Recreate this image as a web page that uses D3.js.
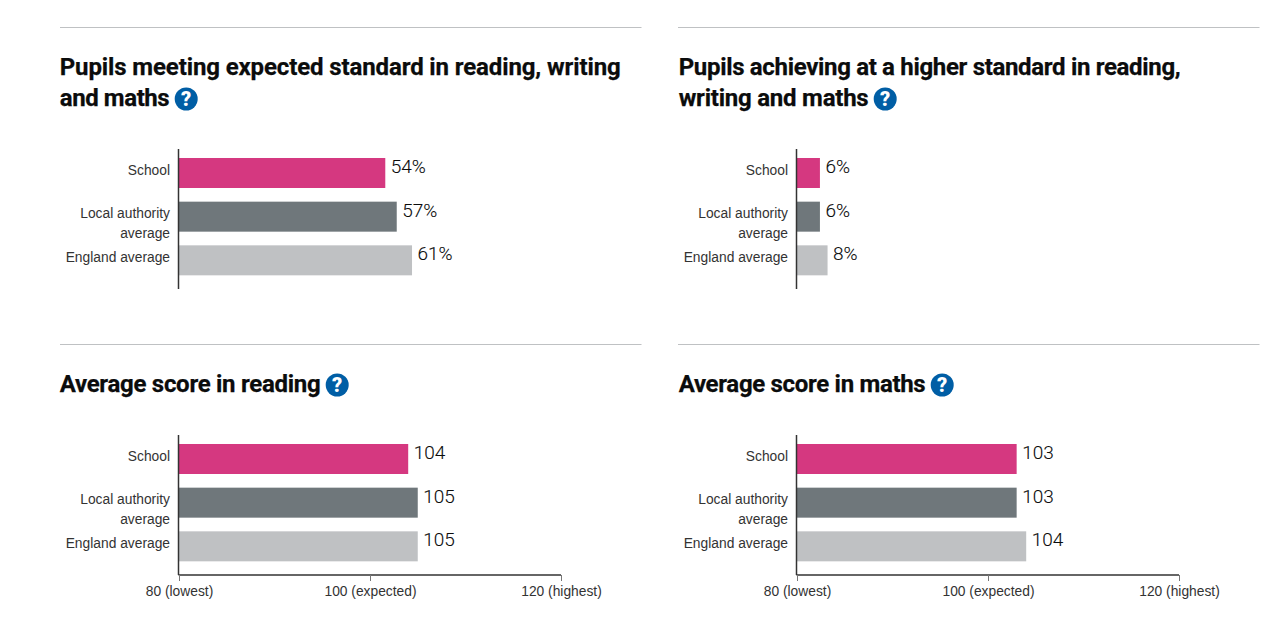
<!DOCTYPE html>
<html><head><meta charset="utf-8">
<script src="https://cdn.jsdelivr.net/npm/d3@7"></script>
<style>
html,body{margin:0;padding:0;background:#fff;overflow:hidden}
svg{display:block}
.title{font-family:Roboto,sans-serif;font-weight:700;font-size:24px;fill:#0b0c0c;stroke:#0b0c0c;stroke-width:0.25px}
.cat{font-family:"Liberation Sans",Arial,sans-serif;font-size:13.8px;fill:#333}
.val{font-family:Roboto,sans-serif;font-weight:300;font-size:19px;fill:#0b0c0c;stroke:#0b0c0c;stroke-width:0.1px}
.tick text{font-family:"Liberation Sans",Arial,sans-serif;font-size:13.8px;fill:#333}
</style></head><body>
<svg id="c" width="1275" height="619"></svg>
<script>
const categories = ["School", "Local authority average", "England average"];
const colors = ["#d53880", "#6f777b", "#bfc1c3"];
const titles = [
  ["Pupils meeting expected standard in reading, writing", "and maths"],
  ["Pupils achieving at a higher standard in reading,", "writing and maths"],
  ["Average score in reading"],
  ["Average score in maths"]
];
const titleFits = [[561, 110], [502, 190], [261], [247]];
const meetingValues = [54, 57, 61];
const higherValues = [6, 6, 8];
const readingValues = [104, 105, 105];
const mathsValues = [103, 103, 104];
const percentDomain = [0, 100];
const scoreDomain = [80, 120];
const scoreTicks = [80, 100, 120];
const scoreTickLabels = ["80 (lowest)", "100 (expected)", "120 (highest)"];

const panels = [
  {x:60, top:27, values:meetingValues, domain:percentDomain, suffix:"%", title:titles[0], fit:titleFits[0], bottomAxis:false},
  {x:678, top:27, values:higherValues, domain:percentDomain, suffix:"%", title:titles[1], fit:titleFits[1], bottomAxis:false},
  {x:60, top:344, values:readingValues, domain:scoreDomain, suffix:"", title:titles[2], fit:titleFits[2], bottomAxis:true},
  {x:678, top:344, values:mathsValues, domain:scoreDomain, suffix:"", title:titles[3], fit:titleFits[3], bottomAxis:true}
];
const svg = d3.select("#c");

panels.forEach(p => {
  const g = svg.append("g").attr("transform", `translate(${p.x},${p.top})`);
  g.append("line").attr("x1",0).attr("x2",581.5).attr("y1",0.5).attr("y2",0.5).attr("stroke","#bfc1c3").attr("stroke-width",1);

  const titleTop = 48, tx = p.x===60 ? -0.3 : 0.7;
  p.title.forEach((t,i) => {
    g.append("text").attr("class","title").attr("x",tx).attr("y",titleTop+i*31)
      .attr("textLength",p.fit[i]).attr("lengthAdjust","spacing").text(t);
  });
  const tw = tx + p.fit[p.fit.length-1];
  const ic = g.append("g").attr("transform",`translate(${tw+16.5},${titleTop+31*(p.title.length-1)-7})`);
  ic.append("circle").attr("r",11.5).attr("fill","#005ea5");
  ic.append("text").attr("text-anchor","middle").attr("y",7).attr("fill","#fff")
    .style("font-family","Roboto,sans-serif").style("font-weight","900").style("font-size","20px").text("?");

  const axisX = 119, chartTop = p.bottomAxis ? 91 : 122;
  const x = d3.scaleLinear().domain(p.domain).range([axisX, axisX+382]);
  const y = d3.scaleBand().domain(categories).range([chartTop-4.67, chartTop+140]).padding(0.313);

  g.selectAll("rect.bar").data(p.values).join("rect").attr("class","bar")
    .attr("x",axisX).attr("y",(d,i)=>y(categories[i])).attr("height",y.bandwidth())
    .attr("width",d=>x(d)-axisX).attr("fill",(d,i)=>colors[i]);

  g.selectAll("text.val").data(p.values).join("text").attr("class","val")
    .attr("x",d=>x(d)+5.5).attr("y",(d,i)=>y(categories[i])+15).text(d=>d+p.suffix);

  categories.forEach(c => {
    const words = c === "Local authority average" ? ["Local authority","average"] : [c];
    words.forEach((w,j)=>{
      g.append("text").attr("class","cat").attr("text-anchor","end").attr("x",axisX-9)
        .attr("y",y(c)+(words.length>1?16:17)+j*20).text(w);
    });
  });

  g.append("line").attr("x1",axisX-0.5).attr("x2",axisX-0.5).attr("y1",chartTop).attr("y2",chartTop+140)
    .attr("stroke","#333").attr("stroke-width",1.5);

  if (p.bottomAxis) {
    const ax = d3.axisBottom(x).tickValues(scoreTicks).tickSize(6).tickPadding(5)
      .tickFormat((d,i)=>scoreTickLabels[i]);
    const a = g.append("g").attr("transform",`translate(0,${chartTop+140})`).call(ax);
    a.select(".domain").attr("stroke","#333").attr("stroke-width",1.5).attr("d",`M${axisX-0.5},0H${axisX+382}`);
    a.selectAll(".tick line").attr("stroke","#777");
  }
});
</script></body></html>
